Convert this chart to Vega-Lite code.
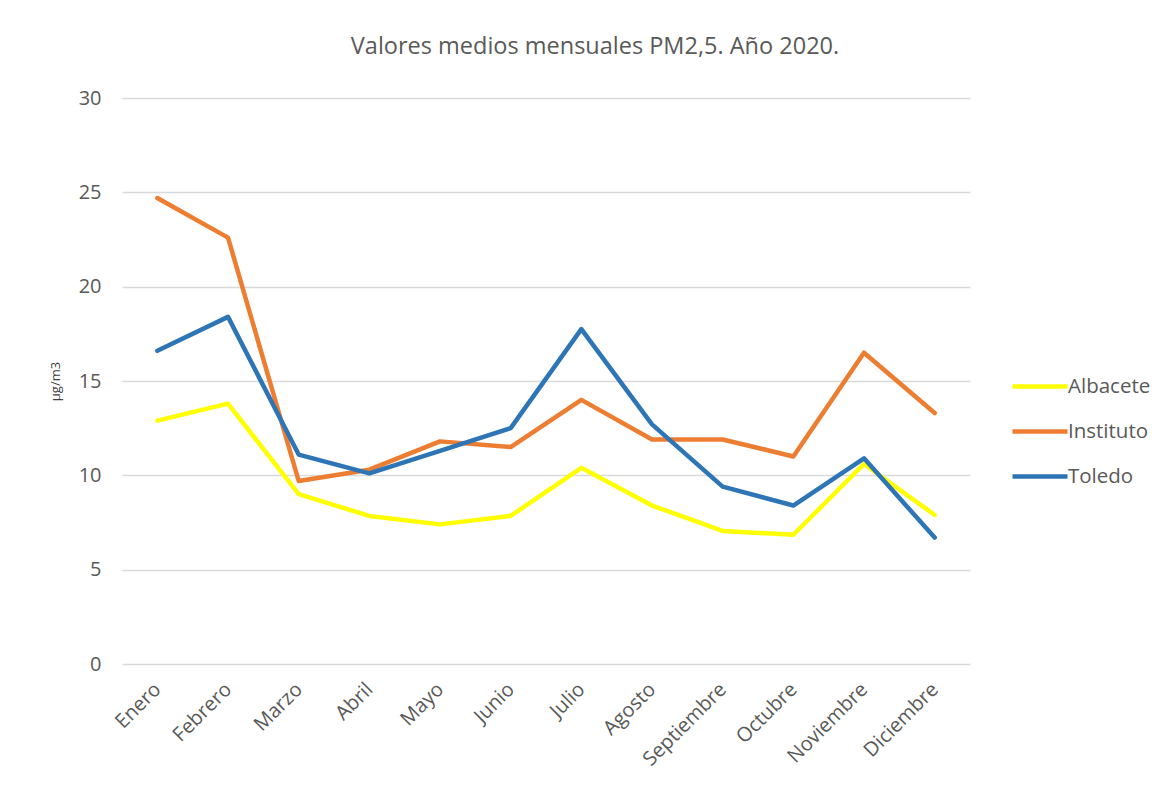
{
  "$schema": "https://vega.github.io/schema/vega-lite/v6.json",
  "width": 848,
  "height": 566,
  "autosize": {"type": "none"},
  "padding": {"left": 122, "top": 98, "right": 199, "bottom": 125},
  "background": "white",
  "title": {
    "text": "Valores medios mensuales PM2,5. Año 2020.",
    "font": "Open Sans",
    "fontSize": 23.5,
    "fontWeight": "normal",
    "color": "#595959",
    "anchor": "middle",
    "dx": 49,
    "offset": 30
  },
  "data": {
    "values": [
      {"mes": "Enero", "serie": "Albacete", "valor": 12.9},
      {"mes": "Febrero", "serie": "Albacete", "valor": 13.8},
      {"mes": "Marzo", "serie": "Albacete", "valor": 9.0},
      {"mes": "Abril", "serie": "Albacete", "valor": 7.85},
      {"mes": "Mayo", "serie": "Albacete", "valor": 7.4},
      {"mes": "Junio", "serie": "Albacete", "valor": 7.85},
      {"mes": "Julio", "serie": "Albacete", "valor": 10.4},
      {"mes": "Agosto", "serie": "Albacete", "valor": 8.4},
      {"mes": "Septiembre", "serie": "Albacete", "valor": 7.05},
      {"mes": "Octubre", "serie": "Albacete", "valor": 6.85},
      {"mes": "Noviembre", "serie": "Albacete", "valor": 10.6},
      {"mes": "Diciembre", "serie": "Albacete", "valor": 7.9},
      {"mes": "Enero", "serie": "Instituto", "valor": 24.7},
      {"mes": "Febrero", "serie": "Instituto", "valor": 22.6},
      {"mes": "Marzo", "serie": "Instituto", "valor": 9.7},
      {"mes": "Abril", "serie": "Instituto", "valor": 10.3},
      {"mes": "Mayo", "serie": "Instituto", "valor": 11.8},
      {"mes": "Junio", "serie": "Instituto", "valor": 11.5},
      {"mes": "Julio", "serie": "Instituto", "valor": 14.0},
      {"mes": "Agosto", "serie": "Instituto", "valor": 11.9},
      {"mes": "Septiembre", "serie": "Instituto", "valor": 11.9},
      {"mes": "Octubre", "serie": "Instituto", "valor": 11.0},
      {"mes": "Noviembre", "serie": "Instituto", "valor": 16.5},
      {"mes": "Diciembre", "serie": "Instituto", "valor": 13.3},
      {"mes": "Enero", "serie": "Toledo", "valor": 16.6},
      {"mes": "Febrero", "serie": "Toledo", "valor": 18.4},
      {"mes": "Marzo", "serie": "Toledo", "valor": 11.1},
      {"mes": "Abril", "serie": "Toledo", "valor": 10.1},
      {"mes": "Mayo", "serie": "Toledo", "valor": 11.3},
      {"mes": "Junio", "serie": "Toledo", "valor": 12.5},
      {"mes": "Julio", "serie": "Toledo", "valor": 17.75},
      {"mes": "Agosto", "serie": "Toledo", "valor": 12.7},
      {"mes": "Septiembre", "serie": "Toledo", "valor": 9.4},
      {"mes": "Octubre", "serie": "Toledo", "valor": 8.4},
      {"mes": "Noviembre", "serie": "Toledo", "valor": 10.9},
      {"mes": "Diciembre", "serie": "Toledo", "valor": 6.7}
    ]
  },
  "mark": {"type": "line", "strokeWidth": 4.5, "strokeCap": "round", "strokeJoin": "round"},
  "encoding": {
    "x": {
      "field": "mes",
      "type": "ordinal",
      "sort": ["Enero", "Febrero", "Marzo", "Abril", "Mayo", "Junio", "Julio", "Agosto", "Septiembre", "Octubre", "Noviembre", "Diciembre"],
      "scale": {"type": "point", "padding": 0.5},
      "axis": {
        "title": null,
        "labelAngle": -45,
        "labelAlign": "right",
        "labelBaseline": "middle",
        "labelPadding": 22,
        "labelFont": "Open Sans",
        "labelFontSize": 20,
        "labelColor": "#595959",
        "ticks": false,
        "domain": false,
        "grid": false
      }
    },
    "y": {
      "field": "valor",
      "type": "quantitative",
      "scale": {"domain": [0, 30], "nice": false},
      "axis": {
        "title": "µg/m3",
        "titleFont": "Open Sans",
        "titleFontSize": 13,
        "titleFontWeight": "normal",
        "titleColor": "#404040",
        "titlePadding": 16,
        "values": [0, 5, 10, 15, 20, 25, 30],
        "labelFont": "Open Sans",
        "labelFontSize": 20,
        "labelColor": "#595959",
        "labelPadding": 21,
        "ticks": false,
        "domain": false,
        "grid": true,
        "gridColor": "#d9d9d9",
        "gridWidth": 1.5
      }
    },
    "color": {
      "field": "serie",
      "type": "nominal",
      "scale": {"domain": ["Albacete", "Instituto", "Toledo"], "range": ["#FFFF00", "#ED7D31", "#2E75B6"]},
      "legend": {
        "title": null,
        "orient": "none",
        "legendX": 888,
        "legendY": 266,
        "symbolType": "stroke",
        "symbolSize": 3025,
        "symbolStrokeWidth": 4.5,
        "labelFont": "Open Sans",
        "labelFontSize": 20.5,
        "labelColor": "#595959",
        "labelOffset": -2,
        "clipHeight": 45,
        "rowPadding": 0
      }
    }
  },
  "config": {"view": {"stroke": null}}
}
